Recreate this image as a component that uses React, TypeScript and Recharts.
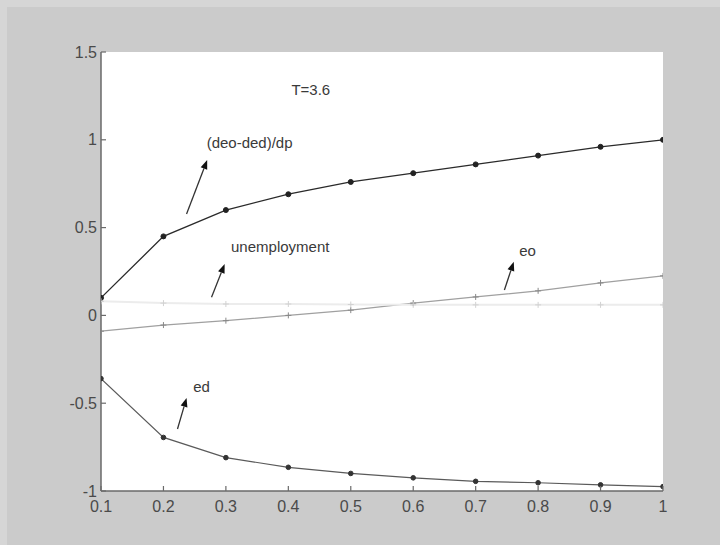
import React from 'react';
import {
  LineChart,
  Line,
  XAxis,
  YAxis,
  CartesianGrid,
  ReferenceDot,
  ReferenceLine,
} from 'recharts';

// ---- data ----
const xValues = [0.1, 0.2, 0.3, 0.4, 0.5, 0.6, 0.7, 0.8, 0.9, 1.0];
const dedpValues = [0.1, 0.45, 0.6, 0.69, 0.76, 0.81, 0.86, 0.91, 0.96, 1.0];
const eoValues = [-0.09, -0.055, -0.03, 0.0, 0.03, 0.07, 0.105, 0.14, 0.185, 0.225];
const unempValues = [0.08, 0.07, 0.065, 0.065, 0.062, 0.06, 0.06, 0.06, 0.06, 0.06];
const edValues = [-0.36, -0.695, -0.81, -0.865, -0.9, -0.925, -0.945, -0.953, -0.965, -0.975];

const xTicks = [0.1, 0.2, 0.3, 0.4, 0.5, 0.6, 0.7, 0.8, 0.9, 1];
const yTicks = [-1, -0.5, 0, 0.5, 1, 1.5];

const textLabels = [
  { text: 'T=3.6', x: 0.436, y: 1.289 },
  { text: '(deo-ded)/dp', x: 0.338, y: 0.985 },
  { text: 'unemployment', x: 0.387, y: 0.395 },
  { text: 'eo', x: 0.783, y: 0.372 },
  { text: 'ed', x: 0.261, y: -0.407 },
];

const arrows = [
  { from: { x: 0.237, y: 0.577 }, to: { x: 0.27, y: 0.885 } },
  { from: { x: 0.277, y: 0.104 }, to: { x: 0.298, y: 0.292 } },
  { from: { x: 0.746, y: 0.145 }, to: { x: 0.761, y: 0.305 } },
  { from: { x: 0.2225, y: -0.647 }, to: { x: 0.237, y: -0.47 } },
];

const data = xValues.map((p, i) => ({
  p,
  dedp: dedpValues[i],
  eo: eoValues[i],
  unemp: unempValues[i],
  ed: edValues[i],
}));

// ---- style ----
const FONT = '"Liberation Sans", Arial, Helvetica, sans-serif';
const AXIS = '#6a6a6a';
const LABEL = '#4a4a4a';
const TICK_LEN = 5;

const fmt = (v: number) => String(v);

const BOTTOM_MARGIN = 15;
const LEFT_MARGIN = 4;

const bottomTick = (props: any) => {
  const { x, y, payload } = props;
  const axisY = y - BOTTOM_MARGIN;
  return (
    <g>
      <line x1={x} x2={x} y1={axisY} y2={axisY - TICK_LEN} stroke={AXIS} strokeWidth={1.2} />
      <text
        x={x}
        y={y}
        textAnchor="middle"
        dominantBaseline="central"
        fontFamily={FONT}
        fontSize={16}
        fill={LABEL}
      >
        {fmt(payload.value)}
      </text>
    </g>
  );
};

const topTick = (props: any) => {
  const { x, y } = props;
  return <line x1={x} x2={x} y1={y} y2={y + TICK_LEN} stroke={AXIS} strokeWidth={1.2} />;
};

const leftTick = (props: any) => {
  const { x, y, payload } = props;
  const axisX = x + LEFT_MARGIN;
  return (
    <g>
      <line x1={axisX} x2={axisX + TICK_LEN} y1={y} y2={y} stroke={AXIS} strokeWidth={1.2} />
      <text
        x={x}
        y={y}
        textAnchor="end"
        dominantBaseline="central"
        fontFamily={FONT}
        fontSize={16}
        fill={LABEL}
      >
        {fmt(payload.value)}
      </text>
    </g>
  );
};

const rightTick = (props: any) => {
  const { x, y } = props;
  return <line x1={x} x2={x - TICK_LEN} y1={y} y2={y} stroke={AXIS} strokeWidth={1.2} />;
};

const plusDot = (color: string, name: string) => (props: any) => {
  const { cx, cy, index } = props;
  if (cx == null || cy == null) return <g key={`${name}-${index}`} />;
  return (
    <path
      key={`${name}-${index}`}
      d={`M${cx - 3},${cy}h6M${cx},${cy - 3}v6`}
      stroke={color}
      strokeWidth={1}
      fill="none"
    />
  );
};

const arrowShape = (props: any) => {
  const { x1, y1, x2, y2 } = props;
  const dx = x2 - x1;
  const dy = y2 - y1;
  const len = Math.sqrt(dx * dx + dy * dy) || 1;
  const ux = dx / len;
  const uy = dy / len;
  const hl = 9;
  const hw = 3.5;
  const bx = x2 - ux * hl;
  const by = y2 - uy * hl;
  const px = -uy;
  const py = ux;
  return (
    <g>
      <line x1={x1} y1={y1} x2={bx} y2={by} stroke="#333" strokeWidth={1.3} />
      <polygon
        points={`${x2},${y2} ${bx + px * hw},${by + py * hw} ${bx - px * hw},${by - py * hw}`}
        fill="#111"
      />
    </g>
  );
};

const textShape = (text: string) => (props: any) => {
  const { cx, cy } = props;
  return (
    <text
      x={cx}
      y={cy}
      textAnchor="middle"
      dominantBaseline="central"
      fontFamily={FONT}
      fontSize={15}
      fill="#3a3a3a"
    >
      {text}
    </text>
  );
};

export default function App() {
  return (
    <div
      style={{
        position: 'absolute',
        left: 0,
        top: 0,
        width: 720,
        height: 545,
        background: '#cbcbcb',
        overflow: 'hidden',
      }}
    >
      <div style={{ position: 'absolute', left: 0, top: 0, width: 720, height: 7, background: '#d6d6d6' }} />
      <div style={{ position: 'absolute', left: 0, top: 0, width: 7, height: 545, background: '#d6d6d6' }} />
      <div style={{ position: 'absolute', left: 0, top: 0 }}>
        <LineChart
          width={720}
          height={545}
          data={data}
          margin={{ top: 52, right: 57, bottom: 24, left: 0 }}
        >
          <CartesianGrid fill="#ffffff" horizontal={false} vertical={false} />
          <XAxis
            dataKey="p"
            type="number"
            domain={[0.1, 1]}
            ticks={xTicks}
            interval={0}
            allowDataOverflow
            height={30}
            tickSize={0}
            tickLine={false}
            tickMargin={BOTTOM_MARGIN}
            axisLine={{ stroke: AXIS, strokeWidth: 1.5 }}
            tick={bottomTick}
          />
          <XAxis
            xAxisId="top"
            orientation="top"
            dataKey="p"
            type="number"
            domain={[0.1, 1]}
            ticks={xTicks}
            interval={0}
            allowDataOverflow
            height={0}
            tickSize={0}
            tickLine={false}
            tickMargin={0}
            axisLine={{ stroke: AXIS, strokeWidth: 1.5 }}
            tick={topTick}
          />
          <YAxis
            type="number"
            domain={[-1, 1.5]}
            ticks={yTicks}
            interval={0}
            allowDataOverflow
            width={101}
            tickSize={0}
            tickLine={false}
            tickMargin={LEFT_MARGIN}
            axisLine={{ stroke: AXIS, strokeWidth: 1.5 }}
            tick={leftTick}
          />
          <YAxis
            yAxisId="right"
            orientation="right"
            type="number"
            domain={[-1, 1.5]}
            ticks={yTicks}
            interval={0}
            allowDataOverflow
            width={0}
            tickSize={0}
            tickLine={false}
            tickMargin={0}
            axisLine={{ stroke: AXIS, strokeWidth: 1.5 }}
            tick={rightTick}
          />
          <Line
            dataKey="ed"
            stroke="#5a5a5a"
            strokeWidth={1.2}
            dot={{ r: 2.3, fill: '#333', stroke: '#333', strokeWidth: 1 }}
            isAnimationActive={false}
          />
          <Line
            dataKey="eo"
            stroke="#a0a0a0"
            strokeWidth={1.2}
            dot={plusDot('#888', 'eo')}
            isAnimationActive={false}
          />
          <Line
            dataKey="dedp"
            stroke="#2a2a2a"
            strokeWidth={1.3}
            dot={{ r: 2.5, fill: '#222', stroke: '#222', strokeWidth: 1 }}
            isAnimationActive={false}
          />
          <Line
            dataKey="unemp"
            stroke="#ececec"
            strokeWidth={2}
            dot={plusDot('#d2d2d2', 'un')}
            isAnimationActive={false}
          />
          {textLabels.map((t) => (
            <ReferenceDot key={t.text} x={t.x} y={t.y} r={0} shape={textShape(t.text)} />
          ))}
          {arrows.map((a, i) => (
            <ReferenceLine key={`arrow-${i}`} segment={[a.from, a.to]} shape={arrowShape} />
          ))}
        </LineChart>
      </div>
    </div>
  );
}
